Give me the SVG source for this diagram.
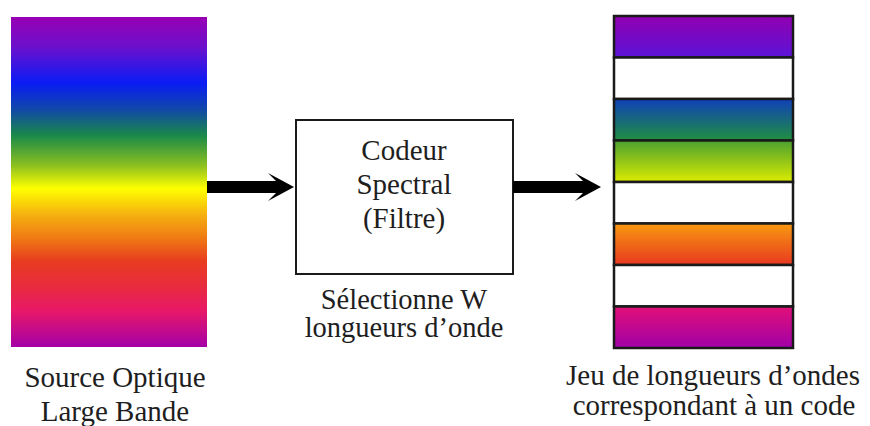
<svg xmlns="http://www.w3.org/2000/svg" width="870" height="426" viewBox="0 0 870 426" font-family="'Liberation Serif', 'DejaVu Serif', serif">
  <style>
    .lbl { font-family: 'Liberation Serif', 'DejaVu Serif', serif; font-size: 29px; fill: #1e1e1e; text-anchor: middle; }
    .sub { font-size: 28.5px; }
    .band { stroke: #1a1a1a; stroke-width: 2.5; }
    .arrow { fill: #000; }
  </style>
  <defs>
    <linearGradient id="spectrum" x1="0" y1="0" x2="0" y2="1">
      <stop offset="0" stop-color="#9800b4"/>
      <stop offset="0.09" stop-color="#6c10cc"/>
      <stop offset="0.2" stop-color="#0a1cf5"/>
      <stop offset="0.28" stop-color="#1048a8"/>
      <stop offset="0.36" stop-color="#1a8a48"/>
      <stop offset="0.45" stop-color="#8cc020"/>
      <stop offset="0.52" stop-color="#ffff00"/>
      <stop offset="0.6" stop-color="#f5b010"/>
      <stop offset="0.67" stop-color="#f07a14"/>
      <stop offset="0.74" stop-color="#e83c20"/>
      <stop offset="0.82" stop-color="#e82a40"/>
      <stop offset="0.89" stop-color="#e81868"/>
      <stop offset="1" stop-color="#a400a8"/>
    </linearGradient>
    <linearGradient id="b1" x1="0" y1="0" x2="0" y2="1">
      <stop offset="0" stop-color="#9200b0"/>
      <stop offset="1" stop-color="#5a14d8"/>
    </linearGradient>
    <linearGradient id="b3" x1="0" y1="0" x2="0" y2="1">
      <stop offset="0" stop-color="#1040b8"/>
      <stop offset="1" stop-color="#209040"/>
    </linearGradient>
    <linearGradient id="b4" x1="0" y1="0" x2="0" y2="1">
      <stop offset="0" stop-color="#4aa030"/>
      <stop offset="1" stop-color="#dcec00"/>
    </linearGradient>
    <linearGradient id="b6" x1="0" y1="0" x2="0" y2="1">
      <stop offset="0" stop-color="#f89a10"/>
      <stop offset="1" stop-color="#e83820"/>
    </linearGradient>
    <linearGradient id="b8" x1="0" y1="0" x2="0" y2="1">
      <stop offset="0" stop-color="#e21078"/>
      <stop offset="1" stop-color="#a000a8"/>
    </linearGradient>
  </defs>

  <rect width="870" height="426" fill="#ffffff"/>

  <!-- broadband optical source -->
  <g id="source">
    <rect x="11" y="17" width="196" height="330" fill="url(#spectrum)"/>
    <text class="lbl" x="115" y="387" font-family="Liberation Serif">Source Optique</text>
    <text class="lbl" x="115" y="421" font-family="Liberation Serif">Large Bande</text>
  </g>

  <!-- spectral encoder -->
  <g id="encoder">
    <rect x="296" y="120" width="217" height="154" fill="#ffffff" stroke="#1a1a1a" stroke-width="2"/>
    <text class="lbl" x="404" y="160">Codeur</text>
    <text class="lbl" x="404" y="194">Spectral</text>
    <text class="lbl" x="404" y="228">(Filtre)</text>
    <text class="lbl sub" x="404" y="309">Sélectionne W</text>
    <text class="lbl sub" x="404" y="337">longueurs d’onde</text>
  </g>

  <!-- selected wavelength set -->
  <g id="code">
    <rect class="band" x="614" y="16" width="179" height="41.5" fill="url(#b1)"/>
    <rect class="band" x="614" y="57.5" width="179" height="41.5" fill="#ffffff"/>
    <rect class="band" x="614" y="99" width="179" height="41.5" fill="url(#b3)"/>
    <rect class="band" x="614" y="140.5" width="179" height="41.5" fill="url(#b4)"/>
    <rect class="band" x="614" y="182" width="179" height="41.5" fill="#ffffff"/>
    <rect class="band" x="614" y="223.5" width="179" height="41.5" fill="url(#b6)"/>
    <rect class="band" x="614" y="265" width="179" height="41.5" fill="#ffffff"/>
    <rect class="band" x="614" y="306.5" width="179" height="41.5" fill="url(#b8)"/>
    <text class="lbl" x="713" y="385">Jeu de longueurs d’ondes</text>
    <text class="lbl" x="714" y="415">correspondant à un code</text>
  </g>

  <!-- connectors -->
  <g id="connectors">
    <path class="arrow" d="M207,181 H276 L268,173 L294,187 L268,201 L276,193 H207 Z"/>
    <path class="arrow" d="M513,181 H583 L575,173 L601,187 L575,201 L583,193 H513 Z"/>
  </g>
</svg>
